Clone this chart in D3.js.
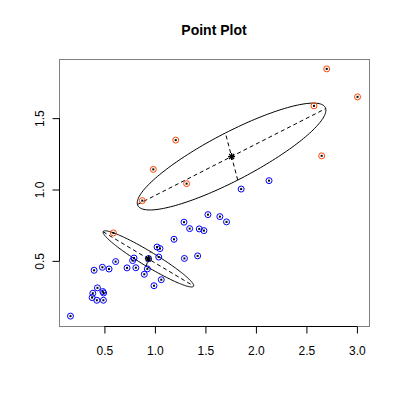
<!DOCTYPE html>
<html>
<head>
<meta charset="utf-8">
<script src="https://cdn.jsdelivr.net/npm/d3@7"></script>
<style>
  body { margin: 0; background: #fff; }
  text { font-family: "Liberation Sans", Arial, sans-serif; }
</style>
</head>
<body>
<div id="chart"></div>
<script>
(function () {

  // group 1 (blue) points
  const blueX = [2.130, 1.854, 1.525, 1.643, 1.709, 1.288, 1.344, 1.439, 1.485, 1.189,
    1.021, 1.050, 1.038, 1.292, 1.423, 0.937, 0.793, 0.779, 0.611, 0.724,
    0.811, 0.925, 0.895, 1.063, 0.991, 0.398, 0.480, 0.546, 0.431, 0.385,
    0.484, 0.492, 0.378, 0.425, 0.490, 0.164]
  const blueY = [1.062, 1.003, 0.824, 0.810, 0.773, 0.771, 0.726, 0.724, 0.712, 0.651,
    0.597, 0.586, 0.527, 0.517, 0.535, 0.516, 0.520, 0.502, 0.495, 0.451,
    0.452, 0.444, 0.406, 0.368, 0.326, 0.434, 0.455, 0.443, 0.311, 0.273,
    0.285, 0.275, 0.243, 0.224, 0.224, 0.113]

  // group 2 (red) points
  const redX = [2.701, 3.006, 2.575, 1.206, 0.984, 1.314, 2.651, 0.875, 0.589]
  const redY = [1.845, 1.649, 1.586, 1.346, 1.141, 1.041, 1.236, 0.922, 0.696]

  // ellipses: centre, semi-major vector, semi-minor vector (data units)
  const ellipseCenters = [[0.935, 0.514], [1.759, 1.231]]
  const ellipseMajor = [[0.448, -0.190], [0.932, 0.336]]
  const ellipseMinor = [[0.021, 0.051], [-0.061, 0.165]]

  const xTicks = [0.5, 1.0, 1.5, 2.0, 2.5, 3.0]
  const yTicks = [0.5, 1.0, 1.5]

  const plot = { left: 59, right: 369, top: 59, bottom: 326 }

  const svg = d3.select("#chart").append("svg")
      .attr("width", 400)
      .attr("height", 400)

  const blue = blueX.map((x, i) => ({ x: x, y: blueY[i], c: "#0000ff" }))
  const red = redX.map((x, i) => ({ x: x, y: redY[i], c: "#ff4500" }))
  const points = blue.concat(red)

  // R style 4% padding around the data range
  function padded (vals) {
    const [lo, hi] = d3.extent(vals)
    const pad = (hi - lo) * 0.04
    return [lo - pad, hi + pad]
  }

  const xPositionScale = d3.scaleLinear()
    .domain(padded(points.map(d => d.x)))
    .range([plot.left, plot.right])

  const yPositionScale = d3.scaleLinear()
    .domain(padded(points.map(d => d.y)))
    .range([plot.bottom, plot.top])

  // title
  svg.append("text")
    .attr("x", (plot.left + plot.right) / 2)
    .attr("y", 35)
    .attr("text-anchor", "middle")
    .attr("font-size", 14)
    .attr("font-weight", "bold")
    .text("Point Plot")

  // box
  svg.append("rect")
    .attr("x", plot.left + 0.5)
    .attr("y", plot.top + 0.5)
    .attr("width", plot.right - plot.left)
    .attr("height", plot.bottom - plot.top)
    .attr("fill", "none")
    .attr("stroke", "#808080")

  // axes
  const xAxis = d3.axisBottom(xPositionScale)
    .tickValues(xTicks)
    .tickFormat(d3.format(".1f"))
    .tickSize(7)
    .tickPadding(13)
  const xg = svg.append("g")
    .attr("class", "axis x-axis")
    .attr("transform", "translate(0," + (plot.bottom + 0.5) + ")")
    .call(xAxis)
  xg.select(".domain")
    .attr("d", "M" + xPositionScale(xTicks[0]) + ",0H" + xPositionScale(xTicks[xTicks.length - 1]))
  xg.selectAll("text").attr("font-size", 12).attr("font-family", null)

  const yAxis = d3.axisLeft(yPositionScale)
    .tickValues(yTicks)
    .tickFormat(d3.format(".1f"))
    .tickSize(7)
  const yg = svg.append("g")
    .attr("class", "axis y-axis")
    .attr("transform", "translate(" + (plot.left + 0.5) + ",0)")
    .call(yAxis)
  yg.select(".domain")
    .attr("d", "M0," + yPositionScale(yTicks[0]) + "V" + yPositionScale(yTicks[yTicks.length - 1]))
  yg.selectAll(".tick text")
    .attr("font-size", 12)
    .attr("font-family", null)
    .attr("x", null).attr("dy", null)
    .attr("text-anchor", "middle")
    .attr("transform", "translate(-16,0) rotate(-90)")

  svg.selectAll(".domain, .tick line").attr("stroke", "#000")

  // ellipses and their axes
  const line = d3.line()
    .x(d => xPositionScale(d[0]))
    .y(d => yPositionScale(d[1]))

  const angles = d3.range(0, 2 * Math.PI + 0.01, Math.PI / 90)

  ellipseCenters.forEach(function (c, i) {
    const a = ellipseMajor[i]
    const b = ellipseMinor[i]
    const outline = angles.map(t => [
      c[0] + Math.cos(t) * a[0] + Math.sin(t) * b[0],
      c[1] + Math.cos(t) * a[1] + Math.sin(t) * b[1]
    ])
    svg.append("path")
      .attr("d", line(outline))
      .attr("fill", "none")
      .attr("stroke", "#000")
      .attr("stroke-width", 1)

    ;[a, b].forEach(function (v) {
      svg.append("path")
        .attr("d", line([[c[0] - v[0], c[1] - v[1]], [c[0] + v[0], c[1] + v[1]]]))
        .attr("fill", "none")
        .attr("stroke", "#000")
        .attr("stroke-dasharray", "4,3")
    })
  })

  // points: open circle with a dot in the middle
  svg.selectAll(".pt")
    .data(points)
    .join("circle")
    .attr("class", "pt")
    .attr("cx", d => xPositionScale(d.x))
    .attr("cy", d => yPositionScale(d.y))
    .attr("r", 3)
    .attr("fill", "none")
    .attr("stroke", d => d.c)
    .attr("stroke-width", 1)

  svg.selectAll(".dot")
    .data(points)
    .join("rect")
    .attr("class", "dot")
    .attr("x", d => xPositionScale(d.x) - 1)
    .attr("y", d => yPositionScale(d.y) - 1)
    .attr("width", 2)
    .attr("height", 2)
    .attr("fill", "#000")

  // centre markers (asterisk)
  const star = "M-3.5,0H3.5M0,-3.5V3.5M-2.5,-2.5L2.5,2.5M-2.5,2.5L2.5,-2.5"
  svg.selectAll(".centre")
    .data(ellipseCenters)
    .join("path")
    .attr("class", "centre")
    .attr("transform", d => "translate(" + xPositionScale(d[0]) + "," + yPositionScale(d[1]) + ")")
    .attr("d", star)
    .attr("stroke", "#000")
    .attr("stroke-width", 1.2)

})();
</script>
</body>
</html>
